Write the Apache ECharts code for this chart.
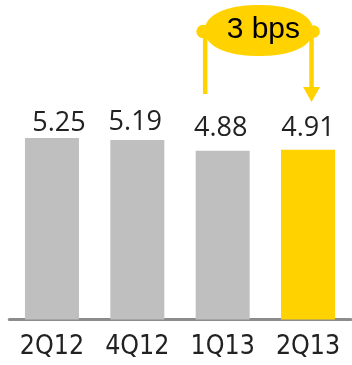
<!DOCTYPE html>
<html><head><meta charset="utf-8">
<script src="https://cdn.jsdelivr.net/npm/echarts@6/dist/echarts.min.js"></script>
<style>html,body{margin:0;padding:0;background:#fff}#c{width:352px;height:365px}</style>
</head><body><div id="c"></div>
<script>
var categories = ['2Q12', '4Q12', '1Q13', '2Q13'];
var values = [5.25, 5.19, 4.88, 4.91];
var changeLabel = '3 bps';

var GRAY = '#BFBFBF', YELLOW = '#FFD200';
var labelDist = [1, 4, 9, 8];
var labelDx = [7, -2, -2, 0];

var chart = echarts.init(document.getElementById('c'), null, {renderer: 'canvas'});
var option = {
  animation: false,
  grid: {left: 9.3, right: 1.3, top: 43, bottom: 45.5},
  xAxis: {
    type: 'category', data: categories,
    axisLine: {lineStyle: {color: '#8C8C8C', width: 3}},
    axisTick: {show: false},
    axisLabel: {color: '#222', fontSize: 26.5, fontFamily: '"DejaVu Sans Condensed", sans-serif', margin: 14}
  },
  yAxis: {type: 'value', min: 0, max: 8, show: false, splitLine: {show: false}},
  series: [{
    type: 'bar', barWidth: 54,
    data: values.map(function (v, i) {
      return {
        value: v,
        itemStyle: {color: i === values.length - 1 ? YELLOW : GRAY},
        label: {distance: labelDist[i], offset: [labelDx[i], 0]}
      };
    }),
    label: {show: true, position: 'top', color: '#222', fontSize: 27, fontFamily: '"Open Sans", sans-serif',
      formatter: function (p) { return p.value.toFixed(2); }}
  }]
};
chart.setOption(option);

var xa = chart.convertToPixel({xAxisIndex: 0}, 2);
var xb = chart.convertToPixel({xAxisIndex: 0}, 3);
var lx = xa - 17.5, rx = xb + 3.5;
var cx = (lx + rx) / 2 + 0.5, cy = 30.5, ex = 54, ey = 25.5, n = 2.2;
var blobPts = [];
for (var i = 0; i < 120; i++) {
  var t = i / 120 * Math.PI * 2, c = Math.cos(t), s = Math.sin(t);
  blobPts.push([cx + ex * Math.sign(c) * Math.pow(Math.abs(c), 2 / n),
                cy + ey * Math.sign(s) * Math.pow(Math.abs(s), 2 / n)]);
}
chart.setOption({
  graphic: [
    {type: 'polygon', shape: {points: blobPts}, style: {fill: YELLOW}, z: 10},
    {type: 'circle', shape: {cx: lx - 2, cy: 31.5, r: 6.8}, style: {fill: YELLOW}, z: 10},
    {type: 'circle', shape: {cx: rx + 2, cy: 31.5, r: 6.3}, style: {fill: YELLOW}, z: 10},
    {type: 'line', shape: {x1: lx, y1: 33, x2: lx, y2: 94}, style: {stroke: YELLOW, lineWidth: 4.5}, z: 10},
    {type: 'line', shape: {x1: rx, y1: 33, x2: rx, y2: 88}, style: {stroke: YELLOW, lineWidth: 4.5}, z: 10},
    {type: 'polygon', shape: {points: [[rx - 8.5, 87], [rx + 8.5, 87], [rx, 102]]}, style: {fill: YELLOW}, z: 10},
    {type: 'text', x: (lx + rx) / 2 + 5, y: 30, style: {text: changeLabel, fill: '#000', font: '30px "Liberation Sans", Arial, sans-serif', align: 'center', verticalAlign: 'middle'}, z: 11}
  ]
});
</script></body></html>
